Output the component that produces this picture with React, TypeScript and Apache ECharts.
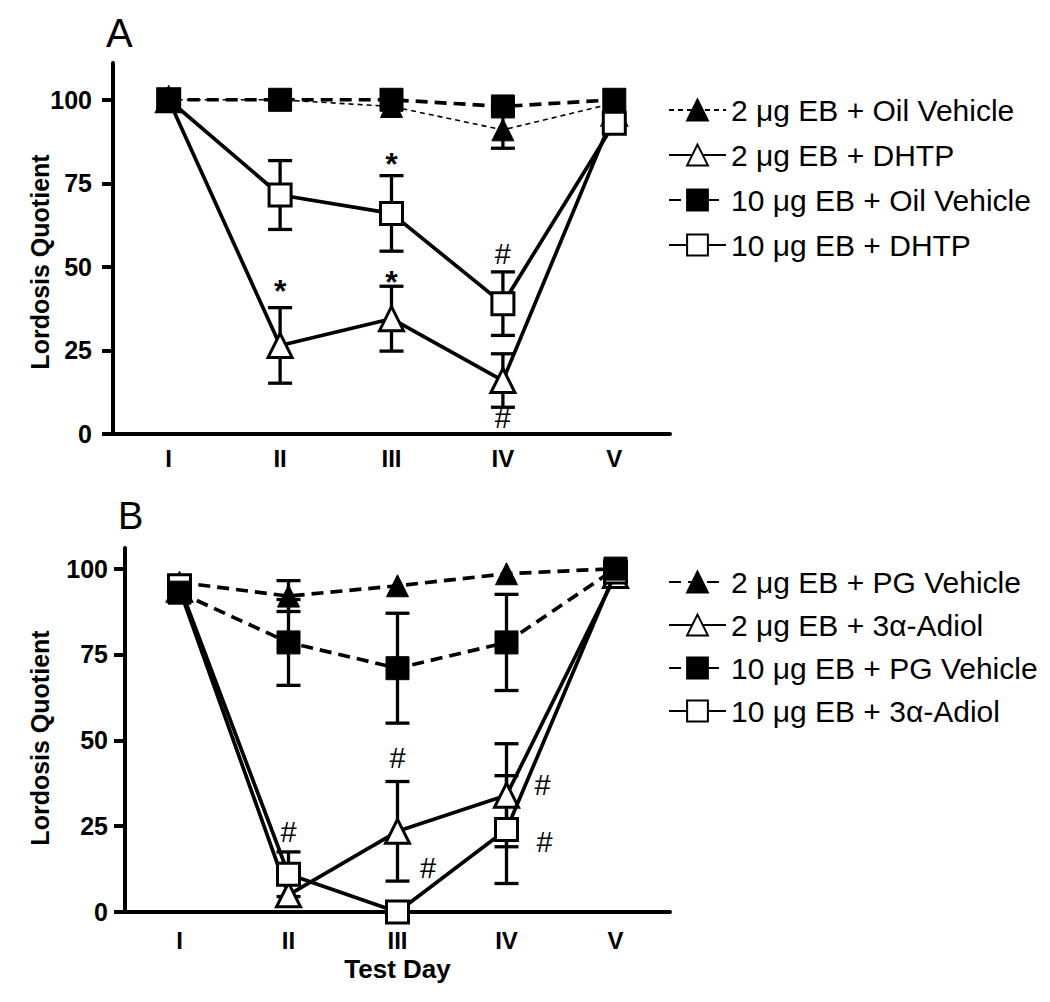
import React, { useEffect, useRef } from 'react';
import * as echarts from 'echarts';

const days = ['I', 'II', 'III', 'IV', 'V'];
const dayPos = [1, 2, 3, 4, 5];
const yTicks = [0, 25, 50, 75, 100];

// Panel A
const namesA = ['2 μg EB + Oil Vehicle', '2 μg EB + DHTP', '10 μg EB + Oil Vehicle', '10 μg EB + DHTP'];
const a2Oil = [100, 100, 98, 91, 99];
const a2OilErr = [0, 0, 0, 5.5, 0];
const a2Dhtp = [100, 26.5, 34.5, 16, 96];
const a2DhtpErr = [0, 11.3, 9.7, 8, 0];
const a10Oil = [100, 100, 100, 98, 100];
const a10OilErr = [0, 0, 0, 0, 0];
const a10Dhtp = [100, 71.5, 66, 39, 93];
const a10DhtpErr = [0, 10.3, 11.3, 9.5, 0];
const marksA: [number, number, string][] = [
  [2, 45, '*'], [3, 83, '*'], [3, 47.5, '*'], [4, 54, '#'], [4, 4.8, '#'],
];

// Panel B
const namesB = ['2 μg EB + PG Vehicle', '2 μg EB + 3α-Adiol', '10 μg EB + PG Vehicle', '10 μg EB + 3α-Adiol'];
const b2Pg = [96, 92, 95, 98.5, 100];
const b2PgErr = [0, 4.5, 0, 0, 0];
const b2Adiol = [94, 5, 23.5, 34, 98];
const b2AdiolErr = [0, 0, 14.5, 15, 0];
const b10Pg = [93, 78.5, 71, 78.5, 100];
const b10PgErr = [0, 12.5, 16, 14, 0];
const b10Adiol = [95, 11, 0, 24, 99];
const b10AdiolErr = [0, 6.5, 0, 15.7, 0];
const marksB: [number, number, string][] = [
  [2, 23.3, '#'], [3, 44.8, '#'], [3.28, 12.8, '#'], [4.33, 36.9, '#'], [4.35, 20.3, '#'],
];

const FONT = 'Liberation Sans, Arial, sans-serif';

type Kind = 'filledTri' | 'openTri' | 'filledSq' | 'openSq';

function lineSeries(name: string, values: number[], g: number, kind: Kind, dash: 'thin' | 'thick' | 'solid', z: number) {
  const isTri = kind === 'filledTri' || kind === 'openTri';
  const filled = kind === 'filledTri' || kind === 'filledSq';
  return {
    type: 'line',
    name,
    xAxisIndex: g,
    yAxisIndex: g,
    z,
    data: values.map((v, i) => [dayPos[i], v]),
    symbol: isTri ? 'triangle' : 'rect',
    symbolSize: isTri ? (filled ? 22 : 24) : (filled ? 23 : 22),
    itemStyle: filled
      ? { color: '#000', borderColor: '#000', borderWidth: 1 }
      : { color: '#fff', borderColor: '#000', borderWidth: 3 },
    lineStyle: {
      color: '#000',
      width: dash === 'thin' ? 1.6 : 3.7,
      type: dash === 'solid' ? 'solid' : dash === 'thin' ? [5, 4] : [12, 7],
    },
    emphasis: { disabled: true },
  };
}

function errSeries(values: number[], errs: number[], g: number) {
  const data: number[][] = [];
  values.forEach((v, i) => {
    if (errs[i] > 0) data.push([dayPos[i], v - errs[i], v + errs[i]]);
  });
  return {
    type: 'custom',
    xAxisIndex: g,
    yAxisIndex: g,
    z: 1,
    silent: true,
    data,
    renderItem: (_p: any, api: any) => {
      const x = api.value(0);
      const lo = api.coord([x, api.value(1)]);
      const hi = api.coord([x, api.value(2)]);
      const w = 12;
      const st = { stroke: '#000', lineWidth: 3.3 };
      return {
        type: 'group',
        children: [
          { type: 'line', shape: { x1: lo[0], y1: lo[1], x2: hi[0], y2: hi[1] }, style: st },
          { type: 'line', shape: { x1: lo[0] - w, y1: lo[1], x2: lo[0] + w, y2: lo[1] }, style: st },
          { type: 'line', shape: { x1: hi[0] - w, y1: hi[1], x2: hi[0] + w, y2: hi[1] }, style: st },
        ],
      };
    },
  };
}

function markSeries(marks: [number, number, string][], g: number) {
  return {
    type: 'custom',
    xAxisIndex: g,
    yAxisIndex: g,
    z: 5,
    silent: true,
    data: marks.map((m) => [m[0], m[1], m[2]]),
    dimensions: ['x', 'y', { name: 't', type: 'ordinal' }],
    renderItem: (params: any, api: any) => {
      const m = marks[params.dataIndex];
      const p = api.coord([m[0], m[1]]);
      const star = m[2] === '*';
      return {
        type: 'text',
        x: p[0],
        y: p[1] + (star ? 7 : 0),
        style: {
          text: m[2],
          fontSize: star ? 32 : 29,
          fontWeight: star ? 'bold' : 'normal',
          fontFamily: FONT,
          fill: '#000',
          align: 'center',
          verticalAlign: 'middle',
        },
      };
    },
  };
}

function xAxis(g: number, margin: number) {
  return {
    type: 'value',
    gridIndex: g,
    min: 0.5,
    max: 5.5,
    axisLine: { show: true, lineStyle: { color: '#000', width: 4 } },
    axisTick: { show: false },
    splitLine: { show: false },
    axisLabel: {
      customValues: dayPos,
      formatter: (v: number) => days[Math.round(v) - 1] || '',
      fontSize: 24,
      fontWeight: 'bold',
      fontFamily: FONT,
      color: '#000',
      margin,
    },
    ...(g === 1
      ? {
          name: 'Test Day',
          nameLocation: 'middle',
          nameGap: 44,
          nameTextStyle: { fontSize: 26, fontWeight: 'bold', fontFamily: FONT, color: '#000' },
        }
      : {}),
  };
}

function yAxis(g: number, max: number, margin: number) {
  return {
    type: 'value',
    gridIndex: g,
    min: 0,
    max,
    axisLine: { show: true, lineStyle: { color: '#000', width: 4 } },
    axisTick: { show: true, customValues: yTicks, length: 11, lineStyle: { color: '#000', width: 4 } },
    splitLine: { show: false },
    axisLabel: {
      customValues: yTicks,
      fontSize: 25,
      fontWeight: 'bold',
      fontFamily: FONT,
      color: '#000',
      margin,
    },
  };
}

function legend(names: string[], top: number, gap: number) {
  return {
    data: names,
    orient: 'vertical',
    left: 663,
    top,
    itemWidth: 57,
    itemHeight: 26,
    itemGap: gap,
    selectedMode: false,
    textStyle: { fontSize: 30, fontFamily: FONT, color: '#000' },
  };
}

export default function App() {
  const ref = useRef<HTMLDivElement>(null);
  useEffect(() => {
    if (!ref.current) return;
    const chart = echarts.init(ref.current, null, { renderer: 'svg' });
    chart.setOption({
      animation: false,
      backgroundColor: '#fff',
      grid: [
        { left: 113, top: 63, width: 557, height: 371 },
        { left: 125, top: 548, width: 545, height: 364 },
      ],
      xAxis: [xAxis(0, 12), xAxis(1, 16)],
      yAxis: [yAxis(0, 111, 21), yAxis(1, 106, 17)],
      legend: [legend(namesA, 90, 15), legend(namesB, 562, 13)],
      graphic: [
        { type: 'text', left: 106, top: 13, style: { text: 'A', fontSize: 40, fontFamily: FONT, fill: '#000' } },
        { type: 'text', left: 118, top: 497, style: { text: 'B', fontSize: 38, fontFamily: FONT, fill: '#000' } },
        {
          type: 'text', x: 40, y: 262, rotation: Math.PI / 2,
          style: { text: 'Lordosis Quotient', fontSize: 25, fontWeight: 'bold', fontFamily: FONT, fill: '#000', align: 'center', verticalAlign: 'middle' },
        },
        {
          type: 'text', x: 40, y: 738, rotation: Math.PI / 2,
          style: { text: 'Lordosis Quotient', fontSize: 25, fontWeight: 'bold', fontFamily: FONT, fill: '#000', align: 'center', verticalAlign: 'middle' },
        },
      ],
      series: [
        errSeries(a2Oil, a2OilErr, 0),
        errSeries(a2Dhtp, a2DhtpErr, 0),
        errSeries(a10Oil, a10OilErr, 0),
        errSeries(a10Dhtp, a10DhtpErr, 0),
        lineSeries(namesA[0], a2Oil, 0, 'filledTri', 'thin', 2),
        lineSeries(namesA[1], a2Dhtp, 0, 'openTri', 'solid', 2),
        lineSeries(namesA[3], a10Dhtp, 0, 'openSq', 'solid', 3),
        lineSeries(namesA[2], a10Oil, 0, 'filledSq', 'thick', 4),
        markSeries(marksA, 0),
        errSeries(b2Pg, b2PgErr, 1),
        errSeries(b2Adiol, b2AdiolErr, 1),
        errSeries(b10Pg, b10PgErr, 1),
        errSeries(b10Adiol, b10AdiolErr, 1),
        lineSeries(namesB[0], b2Pg, 1, 'filledTri', 'thick', 2),
        lineSeries(namesB[1], b2Adiol, 1, 'openTri', 'solid', 2),
        lineSeries(namesB[3], b10Adiol, 1, 'openSq', 'solid', 3),
        lineSeries(namesB[2], b10Pg, 1, 'filledSq', 'thick', 4),
        markSeries(marksB, 1),
      ],
    });
    return () => chart.dispose();
  }, []);
  return <div ref={ref} style={{ position: 'absolute', left: 0, top: 0, width: 1050, height: 1002, background: '#fff' }} />;
}
